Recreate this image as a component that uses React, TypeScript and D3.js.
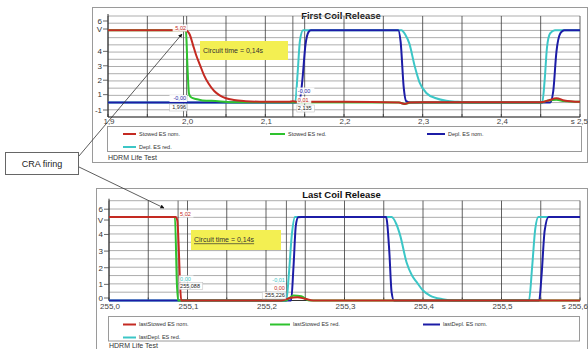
import React from "react";
import * as d3 from "d3";

// ---------- tick labels ----------
const TOP_X_TICKS = [1.9, 2.0, 2.1, 2.2, 2.3, 2.4, 2.5];
const TOP_X_LABELS = ["1,9", "2,0", "2,1", "2,2", "2,3", "2,4", "s 2,5"];
const BOT_X_TICKS = [255.0, 255.1, 255.2, 255.3, 255.4, 255.5, 255.6];
const BOT_X_LABELS = ["255,0", "255,1", "255,2", "255,3", "255,4", "255,5", "s 255,6"];
const TOP_Y_TICKS = [6, 5, 4, 3, 2, 1, -1];
const TOP_Y_LABELS = ["6", "V", "4", "3", "2", "1", "-1"];
const BOT_Y_TICKS = [6, 5, 4, 3, 2, 1, 0];
const BOT_Y_LABELS = ["6", "V", "4", "3", "2", "1", "0"];

const TOP_LEGEND = ["Stowed ES nom.", "Stowed ES red.", "Depl. ES nom.", "Depl. ES red."];
const BOT_LEGEND = ["lastStowed ES nom.", "lastStowed ES red.", "lastDepl. ES nom.", "lastDepl. ES red."];

// ---------- First coil release series ----------
const topRedT = [1.9, 1.998, 2.001, 2.004, 2.008, 2.012, 2.017, 2.022, 2.028, 2.035, 2.042, 2.05, 2.06, 2.075, 2.1, 2.13, 2.135, 2.14, 2.2, 2.27, 2.277, 2.283, 2.3, 2.45, 2.46, 2.47, 2.48, 2.5];
const topRedV = [5.02, 5.02, 4.95, 4.7, 4.0, 3.3, 2.6, 1.9, 1.3, 0.8, 0.5, 0.3, 0.18, 0.1, 0.05, 0.05, 0.1, 0.05, 0.05, 0.0, -0.1, 0.0, 0.02, 0.02, 0.15, 0.3, 0.15, 0.05];
const topGreenT = [1.9, 1.999, 2.001, 2.003, 2.006, 2.012, 2.02, 2.04, 2.06, 2.27, 2.277, 2.285, 2.45, 2.46, 2.47, 2.48, 2.5];
const topGreenV = [5.02, 5.02, 2.5, 0.6, 0.35, 0.25, 0.15, 0.1, 0.02, 0.0, -0.1, 0.0, 0.0, 0.15, 0.2, 0.1, 0.05];
const topBlueT = [1.9, 2.143, 2.147, 2.151, 2.155, 2.158, 2.269, 2.272, 2.276, 2.279, 2.285, 2.462, 2.466, 2.47, 2.475, 2.48, 2.5];
const topBlueV = [0, 0, 1.5, 4.0, 4.9, 5.02, 5.02, 4.2, 1.0, 0.1, 0, 0, 0.8, 3.5, 4.8, 5.02, 5.02];
const topCyanT = [1.9, 2.138, 2.141, 2.144, 2.148, 2.273, 2.278, 2.283, 2.29, 2.296, 2.305, 2.317, 2.33, 2.345, 2.36, 2.452, 2.455, 2.458, 2.462, 2.468, 2.5];
const topCyanV = [0, 0, 2.0, 4.3, 5.02, 5.02, 4.7, 4.1, 2.5, 1.4, 0.65, 0.3, 0.12, 0.05, 0, 0, 1.5, 3.8, 4.8, 5.02, 5.02];

// ---------- Last coil release series ----------
const botRedT = [255.0, 255.085, 255.087, 255.089, 255.0905, 255.092, 255.1, 255.22, 255.23, 255.24, 255.25, 255.26, 255.6];
const botRedV = [5.02, 5.02, 4.8, 3.0, 1.0, 0.0, 0.0, 0.0, 0.15, 0.2, 0.1, 0.0, 0.0];
const botGreenT = [255.0, 255.084, 255.0865, 255.088, 255.1, 255.225, 255.235, 255.245, 255.255, 255.6];
const botGreenV = [5.02, 5.02, 1.0, 0.0, 0.0, 0.0, 0.3, 0.25, 0.0, 0.0];
const botBlueT = [255.0, 255.232, 255.235, 255.238, 255.241, 255.245, 255.353, 255.357, 255.36, 255.363, 255.548, 255.551, 255.555, 255.56, 255.6];
const botBlueV = [0, 0, 2.0, 4.5, 5.0, 5.02, 5.02, 3.0, 0.5, 0, 0, 1.5, 4.2, 5.02, 5.02];
const botCyanT = [255.0, 255.226, 255.229, 255.233, 255.237, 255.36, 255.366, 255.371, 255.379, 255.386, 255.392, 255.4, 255.409, 255.425, 255.44, 255.535, 255.539, 255.543, 255.547, 255.6];
const botCyanV = [0, 0, 1.5, 4.0, 5.02, 5.02, 4.6, 3.9, 2.3, 1.5, 1.1, 0.6, 0.3, 0.08, 0, 0, 2.0, 4.3, 5.02, 5.02];

const RED = "#c42a22";
const GREEN = "#2ec22e";
const BLUE = "#1c1ca6";
const CYAN = "#3cc6c6";
const COLORS = [RED, GREEN, BLUE, CYAN];
const FONT = "Liberation Sans, Arial, sans-serif";

const zip = (t: number[], v: number[]) => t.map((tt, i) => [tt, v[i]] as [number, number]);

type Cfg = any;

const TOP_CFG: Cfg = {
  id: "top",
  frame: { x: 92.5, y: 7.5, w: 495, h: 155 },
  plot: { left: 108, right: 580, top: 16, bottom: 117 },
  xDomain: [1.9, 2.5],
  yDomain: [-1, 6],
  hCount: 14,
  xTicks: TOP_X_TICKS,
  xLabels: TOP_X_LABELS,
  yTicks: TOP_Y_TICKS,
  yLabels: TOP_Y_LABELS,
  yLabelDy: [5, -1.4, 6.5, 6.5, 6.5, 6.5, -7],
  xLabelY: 123.5,
  title: "First Coil Release",
  titleY: 18.5,
  series: [
    zip(topCyanT, topCyanV),
    zip(topBlueT, topBlueV),
    zip(topGreenT, topGreenV),
    zip(topRedT, topRedV),
  ],
  seriesColors: [CYAN, BLUE, GREEN, RED],
  legend: TOP_LEGEND,
  legendBox: { x: 107.5, y: 126.5, w: 474, h: 25 },
  legendCols: [[123, 13], [270, 15], [427, 18]],
  legendRows: [134, 147],
  footerY: 159.5,
  footerX: 108,
  circuit: { x: 200, y: 41, w: 88, h: 19, underline: false },
  cursors: [
    {
      t: 1.996,
      anchor: "end",
      shift: 4,
      labels: [
        { text: "5,02", color: RED, y: 28 },
        { text: "-0,00", color: BLUE, y: 98.5 },
        { text: "1,996", color: "#222", y: 107.5, boxed: true },
      ],
    },
    {
      t: 2.135,
      anchor: "start",
      shift: 3,
      labels: [
        { text: "-0,00", color: BLUE, y: 91 },
        { text: "0,01", color: RED, y: 100 },
        { text: "2,135", color: "#222", y: 108.5, boxed: true },
      ],
    },
  ],
};

const BOT_CFG: Cfg = {
  id: "bot",
  frame: { x: 96.5, y: 188.5, w: 491, h: 170 },
  plot: { left: 109, right: 580, top: 200.7, bottom: 300.5 },
  xDomain: [255.0, 255.6],
  yDomain: [0, 6],
  hCount: 12,
  xTicks: BOT_X_TICKS,
  xLabels: BOT_X_LABELS,
  yTicks: BOT_Y_TICKS,
  yLabels: BOT_Y_LABELS,
  yLabelDy: [8.5, 2.7, 0.5, 0.5, 0.5, 0.5, -2.5],
  xLabelY: 309,
  title: "Last Coil Release",
  titleY: 198,
  series: [
    zip(botCyanT, botCyanV),
    zip(botBlueT, botBlueV),
    zip(botGreenT, botGreenV),
    zip(botRedT, botRedV),
  ],
  seriesColors: [CYAN, BLUE, GREEN, RED],
  legend: BOT_LEGEND,
  legendBox: { x: 108.5, y: 316.5, w: 471, h: 24.5 },
  legendCols: [[123, 13], [270, 20], [423, 17]],
  legendRows: [324.5, 337.5],
  footerY: 347.5,
  footerX: 109,
  circuit: { x: 191, y: 230, w: 90, h: 20, underline: true },
  cursors: [
    {
      t: 255.088,
      anchor: "start",
      shift: 0,
      labels: [
        { text: "5,02", color: RED, y: 214 },
        { text: "0,00", color: CYAN, y: 279 },
        { text: "255,088", color: "#222", y: 286, boxed: true },
      ],
    },
    {
      t: 255.226,
      anchor: "end",
      shift: 0,
      labels: [
        { text: "-0,01", color: CYAN, y: 280 },
        { text: "0,00", color: RED, y: 288 },
        { text: "255,226", color: "#222", y: 295.5, boxed: true },
      ],
    },
  ],
};

function Chart({ cfg }: { cfg: Cfg }) {
  const { plot } = cfg;
  const x = d3.scaleLinear().domain(cfg.xDomain).range([plot.left, plot.right]);
  const y = d3.scaleLinear().domain(cfg.yDomain).range([plot.bottom, plot.top]);
  const line = d3
    .line<[number, number]>()
    .x((d) => x(d[0]))
    .y((d) => y(d[1]))
    .curve(d3.curveMonotoneX);
  const vGrid = x.ticks(12);
  const hGrid = y.ticks(cfg.hCount);
  const clipId = `clip-${cfg.id}`;
  const labelFont = 5.5;

  return (
    <g fontFamily={FONT}>
      <defs>
        <clipPath id={clipId}>
          <rect x={plot.left} y={plot.top - 2} width={plot.right - plot.left + 1} height={plot.bottom - plot.top + 4} />
        </clipPath>
      </defs>
      <rect x={cfg.frame.x} y={cfg.frame.y} width={cfg.frame.w} height={cfg.frame.h} fill="#fff" stroke="#9a9a9a" strokeWidth={1} />
      <text x={(plot.left + plot.right) / 2 - 3} y={cfg.titleY} textAnchor="middle" fontSize={9.5} fontWeight="bold" fill="#111">
        {cfg.title}
      </text>
      {/* horizontal grid */}
      {hGrid.map((v: number) => (
        <line key={"h" + v} x1={plot.left} x2={plot.right} y1={y(v)} y2={y(v)} stroke="#8a8a8a" strokeWidth={0.7} />
      ))}
      {/* vertical grid */}
      {vGrid.map((v: number) => (
        <line key={"v" + v} x1={x(v)} x2={x(v)} y1={plot.top} y2={plot.bottom} stroke="#3a3a3a" strokeWidth={0.8} />
      ))}
      {/* cursor lines */}
      {cfg.cursors.map((c: any) => (
        <line key={"c" + c.t} x1={x(c.t)} x2={x(c.t)} y1={plot.top} y2={plot.bottom} stroke="#444" strokeWidth={0.8} />
      ))}
      {/* axes */}
      <line x1={plot.left} x2={plot.left} y1={plot.top - 2} y2={plot.bottom} stroke="#333" strokeWidth={1} />
      <line x1={plot.left} x2={plot.right} y1={plot.bottom} y2={plot.bottom} stroke="#333" strokeWidth={1} />
      {cfg.yTicks.map((v: number, i: number) => (
        <g key={"yt" + i}>
          <line x1={plot.left - 5} x2={plot.left} y1={y(v) + cfg.yLabelDy[i]} y2={y(v) + cfg.yLabelDy[i]} stroke="#444" strokeWidth={0.8} />
          <text x={plot.left - 6} y={y(v) + cfg.yLabelDy[i]} dy="0.35em" textAnchor="end" fontSize={8} fill="#333">
            {cfg.yLabels[i]}
          </text>
        </g>
      ))}
      {vGrid.map((v: number) => (
        <line key={"xt" + v} x1={x(v)} x2={x(v)} y1={plot.bottom} y2={plot.bottom - 3} stroke="#333" strokeWidth={0.8} />
      ))}
      {cfg.xTicks.map((v: number, i: number) => {
        const last = i === cfg.xTicks.length - 1;
        return (
          <text key={"xl" + i} x={last ? x(v) + 8 : x(v) + 1} y={cfg.xLabelY} textAnchor={last ? "end" : "middle"} fontSize={8} fill="#444">
            {cfg.xLabels[i]}
          </text>
        );
      })}
      {/* circuit time box */}
      <rect x={cfg.circuit.x} y={cfg.circuit.y} width={cfg.circuit.w} height={cfg.circuit.h} fill="#f3ef52" />
      <text
        x={cfg.circuit.x + 3}
        y={cfg.circuit.y + cfg.circuit.h / 2}
        dy="0.35em"
        fontSize={7}
        fill="#333"
        textDecoration={cfg.circuit.underline ? "underline" : undefined}
      >
        Circuit time = 0,14s
      </text>
      {/* traces */}
      <g clipPath={`url(#${clipId})`}>
        {cfg.series.map((pts: [number, number][], i: number) => (
          <path key={"s" + i} d={line(pts) || ""} fill="none" stroke={cfg.seriesColors[i]} strokeWidth={2} strokeLinejoin="round" />
        ))}
      </g>
      {/* cursor labels */}
      {cfg.cursors.map((c: any) =>
        c.labels.map((l: any, j: number) => {
          const cx = x(c.t) + c.shift;
          const w = l.text.length * 3.1 + 2;
          const tx = c.anchor === "end" ? cx - 1.5 : cx + 2;
          const rx = c.anchor === "end" ? tx - w + 1 : tx - 1;
          return (
            <g key={"cl" + c.t + j}>
              <rect x={rx} y={l.y - 3.5} width={w} height={7} fill="#fff" fillOpacity={0.9} stroke={l.boxed ? "#bbb" : "none"} strokeWidth={0.5} />
              <text x={tx} y={l.y} dy="0.35em" textAnchor={c.anchor} fontSize={labelFont} fill={l.color}>
                {l.text}
              </text>
            </g>
          );
        })
      )}
      {/* legend */}
      <rect x={cfg.legendBox.x} y={cfg.legendBox.y} width={cfg.legendBox.w} height={cfg.legendBox.h} fill="#fff" stroke="#9a9a9a" strokeWidth={1} />
      {cfg.legend.map((name: string, i: number) => {
        const col = i < 3 ? cfg.legendCols[i] : cfg.legendCols[0];
        const rowY = i < 3 ? cfg.legendRows[0] : cfg.legendRows[1];
        return (
          <g key={"lg" + i}>
            <line x1={col[0]} x2={col[0] + col[1]} y1={rowY} y2={rowY} stroke={COLORS[i]} strokeWidth={2} />
            <text x={col[0] + col[1] + 3} y={rowY} dy="0.35em" fontSize={5.5} fill="#333">
              {name}
            </text>
          </g>
        );
      })}
      <text x={cfg.footerX} y={cfg.footerY} fontSize={7} fill="#333">
        HDRM Life Test
      </text>
    </g>
  );
}

export default function App() {
  return (
    <svg
      width={588}
      height={349}
      viewBox="0 0 588 349"
      style={{ position: "fixed", left: 0, top: 0, background: "#fff" }}
    >
      <defs>
        <marker id="arrowHead" viewBox="0 0 10 10" refX="9" refY="5" markerWidth="5" markerHeight="5" orient="auto-start-reverse">
          <path d="M0,0 L10,5 L0,10 z" fill="#111" />
        </marker>
      </defs>
      <rect x={0} y={0} width={588} height={349} fill="#fff" />
      <Chart cfg={TOP_CFG} />
      <Chart cfg={BOT_CFG} />
      {/* CRA firing annotation */}
      <rect x={5.5} y={152.5} width={73} height={22} fill="#fff" stroke="#666" strokeWidth={1} />
      <text x={42} y={164} dy="0.35em" textAnchor="middle" fontSize={9} fontFamily={FONT} fill="#222">
        CRA firing
      </text>
      <line x1={79} y1={156} x2={182} y2={34} stroke="#333" strokeWidth={0.8} markerEnd="url(#arrowHead)" />
      <line x1={79} y1={167} x2={164} y2={208} stroke="#333" strokeWidth={0.8} markerEnd="url(#arrowHead)" />
    </svg>
  );
}
